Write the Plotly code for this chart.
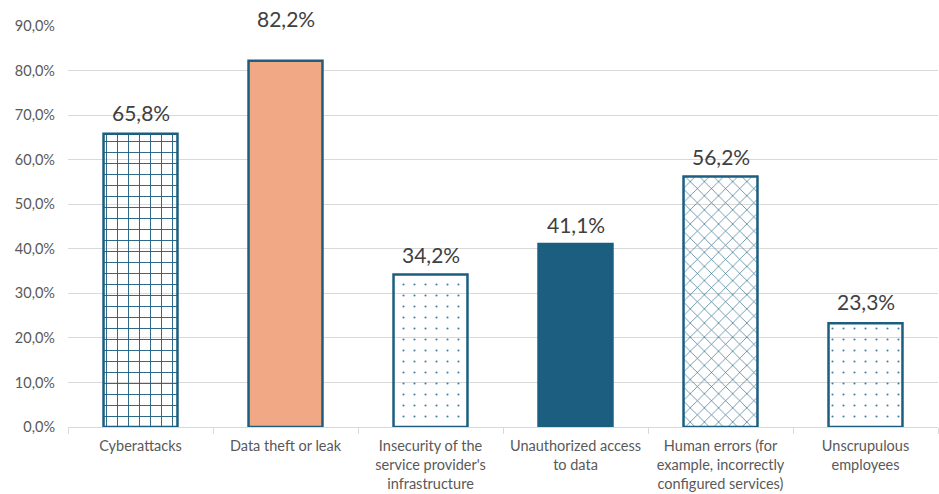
import plotly.graph_objects as go

categories = [
    "Cyberattacks",
    "Data theft or leak",
    "Insecurity of the<br>service provider's<br>infrastructure",
    "Unauthorized access<br>to data",
    "Human errors (for<br>example, incorrectly<br>configured services)",
    "Unscrupulous<br>employees",
]
values = [65.8, 82.2, 34.2, 41.1, 56.2, 23.3]
labels = ["65,8%", "82,2%", "34,2%", "41,1%", "56,2%", "23,3%"]
label_shift = [21, 42, 20, 19, 20, 22]

TEAL = "#1B5E80"
SALMON = "#F1A985"

shapes = ["+", "", ".", "", "x", "."]
fills = [TEAL, SALMON, "#3C7FA0", TEAL, TEAL, "#3C7FA0"]
bgs = ["white", SALMON, "white", TEAL, "white", "white"]
sizes = [11, 8, 11, 8, 10, 11]
solidity = [0.16, 0.3, 0.03, 0.3, 0.12, 0.03]

fig = go.Figure(
    go.Bar(
        x=categories,
        y=values,
        width=0.51,
        marker=dict(
            color=fills,
            line=dict(color=TEAL, width=2.5),
            pattern=dict(shape=shapes, bgcolor=bgs, fgopacity=1, size=sizes,
                         solidity=solidity, fillmode="replace"),
        ),
        hoverinfo="skip",
    )
)

for c, v, t, s in zip(categories, values, labels, label_shift):
    fig.add_annotation(x=c, y=v, text=t, showarrow=False, yanchor="middle",
                       yshift=s, font=dict(size=21, color="#404040", family="Lato"))

fig.update_layout(
    width=939,
    height=494,
    margin=dict(l=68, r=1, t=26, b=67),
    plot_bgcolor="white",
    paper_bgcolor="white",
    separators=",.",
    showlegend=False,
    font=dict(family="Lato", color="#595959", size=15),
    bargap=0.49,
)
fig.update_yaxes(
    range=[0, 90],
    dtick=10,
    tickformat=".1f",
    ticksuffix="%",
    showgrid=True,
    gridcolor="#D9D9D9",
    gridwidth=1,
    zeroline=False,
    showline=False,
    tickfont=dict(size=14.5, color="#595959"),
    ticks="",
    ticklabelstandoff=12,
)
fig.update_xaxes(
    showline=True,
    linecolor="#D9D9D9",
    linewidth=1,
    ticks="outside",
    tickson="boundaries",
    tickcolor="#D9D9D9",
    ticklen=6,
    ticklabelstandoff=6,
    tickfont=dict(size=14.5, color="#595959"),
)

fig.write_html("out.html", post_script="document.body.style.margin='0';",
               config={"displayModeBar": False})
